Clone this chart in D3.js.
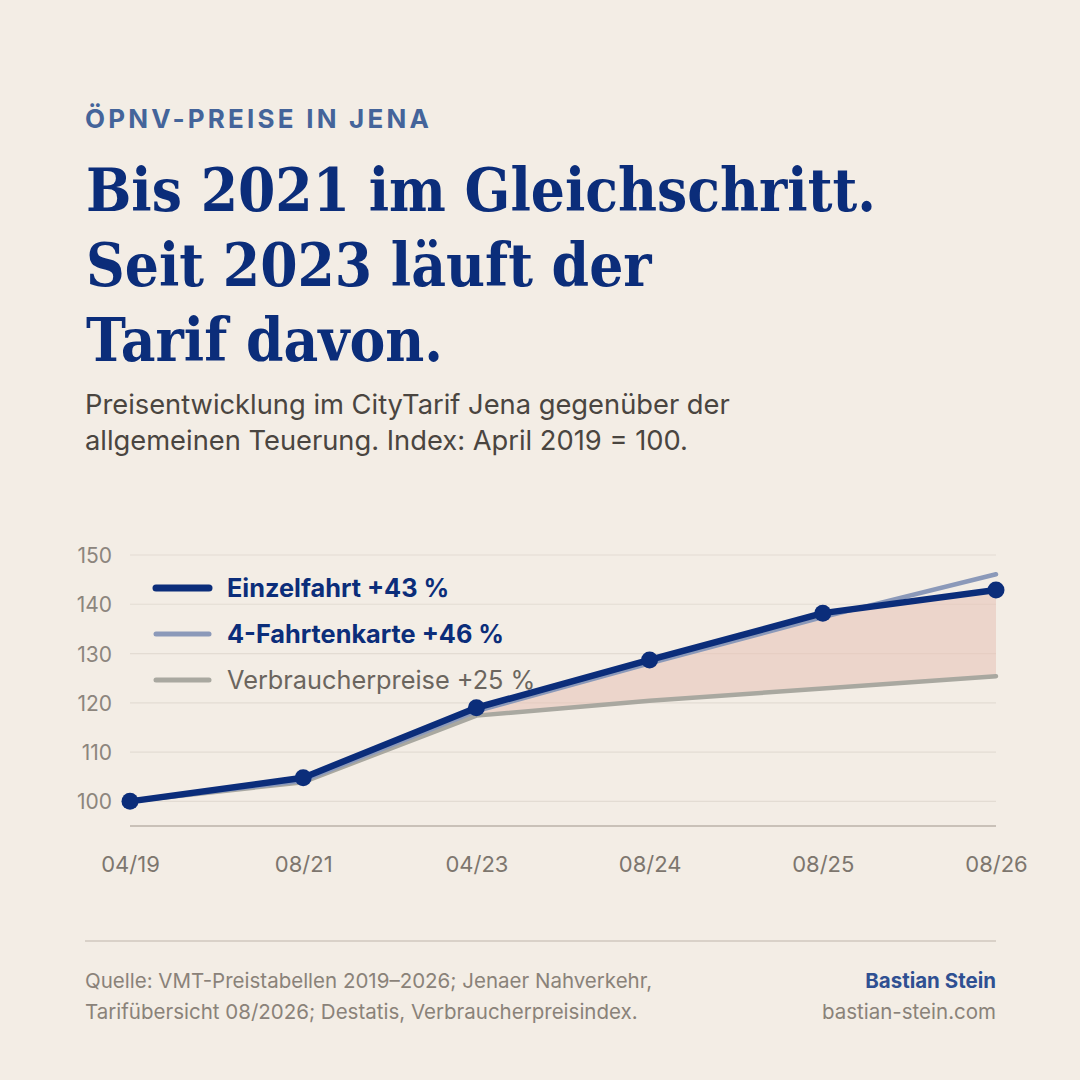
<!DOCTYPE html>
<html><head><meta charset="utf-8">
<script src="https://cdn.jsdelivr.net/npm/d3@7"></script>
<style>
html,body{margin:0;padding:0;background:#f3ede5;}
svg{display:block;}
</style></head>
<body>
<svg id="c" width="1080" height="1080"></svg>
<script>
const categories = ["04/19","08/21","04/23","08/24","08/25","08/26"];
const einzelfahrt = [100, 104.8, 119.0, 128.7, 138.2, 142.9];
const vierFahrten = [100, 104.2, 118.3, 128.0, 137.4, 146.1];
const verbraucher = [100, 103.9, 117.4, 120.4, 122.9, 125.4];
const yTicks = [100,110,120,130,140,150];
const legendLabels = ["Einzelfahrt +43 %","4-Fahrtenkarte +46 %","Verbraucherpreise +25 %"];
const shadeFrom = "04/23";

const svg = d3.select("#c");
svg.append("rect").attr("width",1080).attr("height",1080).attr("fill","#f3ede5");

const sans = "Inter, 'Noto Sans', sans-serif";
const serif = "'DejaVu Serif', 'Liberation Serif', serif";

// Header
svg.append("text").attr("x",85).attr("y",128).text("ÖPNV-PREISE IN JENA")
  .attr("font-family",sans).attr("font-weight",700).attr("font-size",26)
  .attr("letter-spacing",3.2).attr("fill","#44649a");
["Bis 2021 im Gleichschritt.","Seit 2023 läuft der","Tarif davon."].forEach((t,i)=>{
  svg.append("text").attr("transform",`translate(86,${211+i*75}) scale(0.91,1)`).text(t)
    .attr("font-family",serif).attr("font-weight",700).attr("font-size",59)
    .attr("fill","#0b2d7a");
});
["Preisentwicklung im CityTarif Jena gegenüber der","allgemeinen Teuerung. Index: April 2019 = 100."].forEach((t,i)=>{
  svg.append("text").attr("x",85).attr("y",414+i*36).text(t)
    .attr("font-family",sans).attr("font-size",27.3).attr("fill","#4a4540");
});

// Chart
const x = d3.scalePoint().domain(categories).range([130,996]);
const y = d3.scaleLinear().domain([95,150]).range([826,555]);

const g = svg.append("g");
g.selectAll(".grid").data(yTicks).join("line")
  .attr("x1",130).attr("x2",996).attr("y1",d=>y(d)).attr("y2",d=>y(d))
  .attr("stroke","#e3dcd3").attr("stroke-width",1.2);
g.append("line").attr("x1",130).attr("x2",996).attr("y1",y(95)).attr("y2",y(95))
  .attr("stroke","#c9c1b8").attr("stroke-width",2);

// y axis labels
const yAxis = d3.axisLeft(y).tickValues(yTicks).tickSize(0).tickPadding(0);
const ya = svg.append("g").attr("transform","translate(112,0)").call(yAxis);
ya.select(".domain").remove();
ya.selectAll("text").attr("font-family",sans).attr("font-size",21).attr("fill","#8c857d").attr("dy","0.36em");

// x axis labels
const xAxis = d3.axisBottom(x).tickSize(0).tickPadding(0);
const xa = svg.append("g").attr("transform","translate(0,872)").call(xAxis);
xa.select(".domain").remove();
xa.selectAll("text").attr("font-family",sans).attr("font-size",22).attr("fill","#7d766e").attr("dy","0");

// shaded area
const idx0 = categories.indexOf(shadeFrom);
const areaData = categories.map((c,i)=>({c, top:einzelfahrt[i], bot:verbraucher[i]})).slice(idx0);
g.append("path").datum(areaData)
  .attr("d", d3.area().x(d=>x(d.c)).y0(d=>y(d.bot)).y1(d=>y(d.top)))
  .attr("fill","#e8c4b9").attr("fill-opacity",0.6);

const line = d3.line().x((d,i)=>x(categories[i])).y(d=>y(d));
g.append("path").datum(verbraucher).attr("d",line).attr("fill","none")
  .attr("stroke","#a9a8a0").attr("stroke-width",4.5).attr("stroke-linecap","round").attr("stroke-linejoin","round");
g.append("path").datum(vierFahrten).attr("d",line).attr("fill","none")
  .attr("stroke","#8b99b9").attr("stroke-width",4.5).attr("stroke-linecap","round").attr("stroke-linejoin","round");
g.append("path").datum(einzelfahrt).attr("d",line).attr("fill","none")
  .attr("stroke","#0b2d7a").attr("stroke-width",6.5).attr("stroke-linecap","round").attr("stroke-linejoin","round");
g.selectAll(".dot").data(einzelfahrt).join("circle")
  .attr("cx",(d,i)=>x(categories[i])).attr("cy",d=>y(d)).attr("r",8.5).attr("fill","#0b2d7a");

// legend
const legStyles = [
  {stroke:"#0b2d7a", w:7, color:"#0b2d7a", weight:700},
  {stroke:"#8b99b9", w:5, color:"#0b2d7a", weight:700},
  {stroke:"#a9a8a0", w:5, color:"#6b655e", weight:400}
];
legendLabels.forEach((t,i)=>{
  const ly = 588 + i*46;
  svg.append("line").attr("x1",156).attr("x2",209).attr("y1",ly).attr("y2",ly)
    .attr("stroke",legStyles[i].stroke).attr("stroke-width",legStyles[i].w).attr("stroke-linecap","round");
  svg.append("text").attr("x",227).attr("y",ly).attr("dy","0.36em").text(t)
    .attr("font-family",sans).attr("font-size",25.3).attr("font-weight",legStyles[i].weight)
    .attr("fill",legStyles[i].color);
});

// footer
svg.append("line").attr("x1",85).attr("x2",996).attr("y1",941).attr("y2",941)
  .attr("stroke","#d9d1c8").attr("stroke-width",2);
["Quelle: VMT-Preistabellen 2019–2026; Jenaer Nahverkehr,","Tarifübersicht 08/2026; Destatis, Verbraucherpreisindex."].forEach((t,i)=>{
  svg.append("text").attr("x",85).attr("y",988+i*31).text(t)
    .attr("font-family",sans).attr("font-size",20.5).attr("fill","#8a8279");
});
svg.append("text").attr("x",996).attr("y",988).attr("text-anchor","end").text("Bastian Stein")
  .attr("font-family",sans).attr("font-size",20.5).attr("font-weight",700).attr("fill","#2f5092");
svg.append("text").attr("x",996).attr("y",1019).attr("text-anchor","end").text("bastian-stein.com")
  .attr("font-family",sans).attr("font-size",20.5).attr("fill","#8a8279");
</script>
</body></html>
